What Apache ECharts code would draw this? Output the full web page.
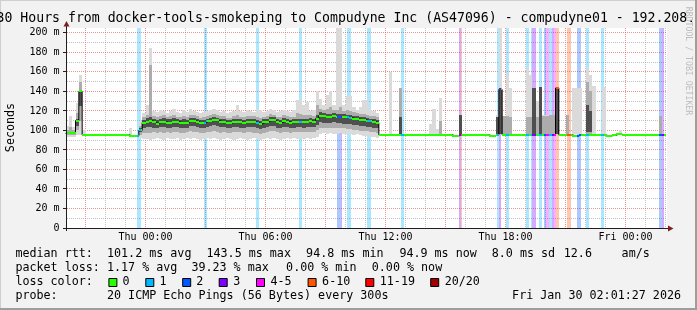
<!DOCTYPE html>
<html>
<head>
<meta charset="utf-8">
<script src="https://cdn.jsdelivr.net/npm/echarts@6/dist/echarts.min.js"></script>
<style>
html,body{margin:0;padding:0;background:#f2f2f2;overflow:hidden;}
#chart{width:697px;height:310px;}
</style>
</head>
<body>
<div id="chart"></div>
<script>
// ================= DATA =================
// time in minutes relative to Thu 00:00
const timeStart = -240;
const timeEnd = 1560;
const medianStep = 10;

// median RTT (ms), one value per 10 minutes from Wed 20:00
const median = [
 97, 97, 97, 110, 140, 95.5, 95.5, 95.5, 95.5, 95.5,
 95.5, 95.5, 95.5, 95.5, 95.5, 95.5, 95.5, 95.5, 95.5, 94.5,
 94.5, 94.5, 100, 108, 109, 110, 108.5, 107, 109, 109,
 108, 108, 109, 109, 108, 108, 108, 110, 110, 109,
 107.5, 108, 109.5, 110, 111, 110.5, 109, 109, 107.5, 107.5,
 109, 109, 108.5, 108, 109, 109, 109, 108, 106.5, 108.5,
 109, 110.5, 110.5, 108.5, 108, 109.5, 109, 108, 108.5, 109,
 109, 108.5, 109, 109.5, 109, 112, 115, 114.5, 114, 114,
 114.5, 114, 114, 113.5, 113.5, 113, 112, 112, 111, 111,
 110, 109.5, 109, 108, 95.5, 95.5, 95.5, 95.5, 95.5, 95.5,
 95.5, 95.5, 95.5, 95.5, 95.5, 95.5, 95.5, 95.5, 95.5, 95.5,
 95.5, 95.5, 95.5, 95.5, 95.5, 95.5, 94.5, 94.5, 95.5, 95.5,
 95.5, 95.5, 95.5, 95.5, 95.5, 95.5, 95.5, 94.5, 94.5, 95.5,
 142, 95.5, 95.5, 95.5, 95.5, 95.5, 95.5, 95.5, 95.5, 95.5,
 95.5, 95.5, 95.5, 95.5, 95.5, 95.5, 95.5, 143.5, 95.5, 95.5,
 95.5, 95.5, 94.5, 94.5, 95.5, 95.5, 95.5, 95.5, 95.5, 95.5,
 95.5, 95.5, 94.5, 94.5, 95, 96, 96, 95.5, 95.5, 95.5,
 95.5, 95.5, 95.5, 95.5, 95.5, 95.5, 95.5, 95.5, 95.5, 95.5
];

// smoke (ping spread), 10-minute samples where visible
const smokeTime = [
 -240, -230, -220, -210, -200, -190, -50,
 -20, -10, 0, 10, 20, 30, 40, 50, 60, 70,
 80, 90, 100, 110, 120, 130, 140, 150, 160, 170,
 180, 190, 200, 210, 220, 230, 240, 250, 260, 270,
 280, 290, 300, 310, 320, 330, 340, 350, 360, 370,
 380, 390, 400, 410, 420, 430, 440, 450, 460, 470,
 480, 490, 500, 510, 520, 530, 540, 550, 560, 570,
 580, 590, 600, 610, 620, 630, 640, 650, 660, 670,
 680, 690,
 730, 760, 850, 860, 870, 880, 940, 1050, 1060, 1070,
 1080, 1090, 1140, 1150, 1160, 1170, 1180, 1190, 1200, 1210,
 1220, 1230, 1260, 1280, 1290, 1300, 1320, 1330, 1340, 1370,
 1420, 1540
];
const smokeOuterLo = [
 93, 93, 93, 95, 95, 94, 94,
 92, 91, 91, 90, 91, 92, 91, 90, 92, 91,
 91, 92, 90, 91, 92, 91, 92, 91, 90, 91,
 92, 91, 92, 91, 90, 91, 92, 91, 90, 91,
 92, 91, 90, 91, 92, 91, 90, 91, 92, 91,
 92, 91, 90, 91, 92, 91, 92, 91, 92, 91,
 92, 91, 92, 93, 96, 97, 96, 97, 96, 96,
 97, 96, 96, 96, 95, 96, 95, 94, 94, 93,
 93, 92,
 96, 96, 96, 96, 96, 96, 96, 96, 96, 96,
 96, 96, 96, 96, 96, 96, 96, 96, 96, 96,
 96, 96, 96, 96, 96, 96, 96, 96, 96, 96,
 96, 96
];
const smokeOuterHi = [
 105, 115, 104, 128, 157, 100, 102,
 110, 118, 126, 184, 120, 119, 121, 120, 118, 120,
 122, 119, 118, 121, 119, 122, 120, 119, 118, 119,
 120, 121, 122, 121, 119, 120, 118, 119, 120, 126,
 120, 119, 121, 120, 119, 122, 121, 119, 120, 122,
 121, 119, 120, 121, 120, 119, 121, 131, 131, 126,
 129, 120, 121, 140, 132, 126, 136, 140, 126, 205,
 205, 126, 135, 135, 124, 121, 124, 131, 131, 121,
 120, 118,
 160, 143, 107, 122, 101, 133, 116, 116, 205, 115,
 157, 143, 164, 157, 143, 130, 145, 116, 116, 116,
 116, 145, 116, 144, 144, 144, 164, 157, 146, 145,
 100, 115
];
const smokeMidLo = [
 95, 95, 95, 100, 110, null, null,
 95, 97, 97, 97, 98, 97, 98, 97, 98, 97,
 98, 98, 97, 97, 98, 99, 98, 98, 97, 97,
 98, 98, 99, 98, 97, 98, 97, 97, 98, 98,
 98, 97, 98, 98, 97, 97, 96, 97, 98, 99,
 99, 98, 97, 98, 98, 97, 98, 98, 98, 98,
 98, 98, 98, 100, 102, 103, 102, 102, 103, 102,
 102, 102, 101, 101, 100, 100, 99, 99, 99, 98,
 98, 97,
 null, 96, null, null, null, 96, null, null, 96, 96,
 96, 96, 96, 96, null, 96, null, 96, 96, 96,
 96, null, 96, null, null, null, 96, 96, null, null,
 null, 96
];
const smokeMidHi = [
 100, 104, 100, 118, 150, null, null,
 105, 114, 116, 167, 115, 114, 115, 116, 114, 115,
 116, 114, 114, 115, 114, 116, 116, 115, 113, 114,
 115, 116, 117, 116, 115, 115, 113, 113, 115, 116,
 114, 114, 115, 115, 115, 114, 113, 114, 115, 117,
 116, 114, 114, 116, 115, 114, 114, 118, 117, 116,
 116, 116, 115, 126, 122, 121, 122, 124, 121, 121,
 124, 120, 121, 120, 119, 118, 117, 117, 116, 115,
 115, 114,
 null, 143, null, null, null, 110, null, null, 143, 115,
 115, 114, 114, 114, null, 114, null, 115, 115, 116,
 116, null, 116, null, null, null, 150, 140, null, null,
 null, 115
];
const smokeCoreLo = [
 null, null, null, 105, 125, null, null,
 98, 103, 104, 104, 103, 102, 104, 104, 103, 103,
 104, 104, 103, 103, 103, 105, 105, 104, 102, 103,
 104, 105, 106, 105, 104, 104, 102, 102, 104, 104,
 103, 103, 104, 104, 104, 103, 101, 103, 104, 105,
 105, 103, 103, 104, 104, 103, 103, 104, 104, 103,
 104, 104, 104, 106, 109, 108, 108, 108, 109, 108,
 108, 107, 107, 107, 106, 106, 105, 105, 104, 104,
 103, 102,
 null, 96, null, null, null, null, 96, 96, 96, null,
 null, null, null, null, 96, null, 96, null, null, null,
 null, 96, null, null, null, null, 98, 98, null, null,
 null, null
];
const smokeCoreHi = [
 null, null, null, 112, 140, null, null,
 103, 111, 113, 114, 112, 111, 112, 113, 112, 112,
 113, 112, 111, 112, 111, 113, 113, 112, 111, 111,
 112, 113, 114, 113, 112, 112, 111, 111, 112, 112,
 112, 111, 112, 112, 112, 111, 110, 112, 112, 114,
 114, 112, 111, 113, 112, 111, 112, 112, 112, 112,
 112, 113, 112, 116, 119, 118, 117, 117, 118, 117,
 117, 117, 116, 116, 115, 115, 114, 114, 113, 112,
 112, 111,
 null, 114, null, null, null, null, 116, 114, 142, null,
 null, null, null, null, 143, null, 145, null, null, null,
 null, 143.5, null, null, null, null, 126, 120, null, null,
 null, null
];

// packet loss events (5-minute samples): time and loss class index
const lossTime = [
 -25, -20, 175, 180, 330, 335, 460, 465, 575, 580, 585,
 605, 610, 665, 670, 765, 770, 940, 945, 1055, 1060,
 1080, 1085, 1140, 1145, 1155, 1160, 1165, 1180, 1185,
 1195, 1200, 1205, 1210, 1215, 1220, 1225, 1230, 1235,
 1265, 1270, 1295, 1300, 1320, 1325, 1365, 1370, 1540, 1545, 1550
];
const lossLevel = [
 1, 1, 1, 1, 1, 1, 1, 1, 2, 2, 3,
 1, 1, 1, 1, 1, 1, 3, 5, 1, 3,
 1, 1, 1, 1, 1, 3, 3, 1, 1,
 2, 4, 4, 1, 1, 3, 4, 5, 5,
 5, 5, 2, 2, 1, 1, 1, 1, 2, 2, 3
];

const lossColors = ['#26ff00', '#00b8ff', '#0059ff', '#7e00ff', '#ff00ff', '#ff5500', '#ff0000', '#a10000'];
const lossNames = ['0', '1', '2', '3', '4-5', '6-10', '11-19', '20/20'];

const xLabelTimes = [0, 360, 720, 1080, 1440];
const xLabelTexts = ['Thu 00:00', 'Thu 06:00', 'Thu 12:00', 'Thu 18:00', 'Fri 00:00'];
const yLabelValues = [0, 20, 40, 60, 80, 100, 120, 140, 160, 180, 200];

const titleText = '30 Hours from docker-tools-smokeping to Compudyne Inc (AS47096) - compudyne01 - 192.208.';
const yAxisTitle = 'Seconds';
const watermarkText = 'RRDTOOL / TOBI OETIKER';
const statsRtt = ['median rtt:', '101.2 ms avg', '143.5 ms max', '94.8 ms min', '94.9 ms now', '8.0 ms sd', '12.6', 'am/s'];
const statsLoss = ['packet loss:', '1.17 % avg', '39.23 % max', '0.00 % min', '0.00 % now'];
const lossColorLabel = 'loss color:';
const probeTexts = ['probe:', '20 ICMP Echo Pings (56 Bytes) every 300s', 'Fri Jan 30 02:01:27 2026'];

// ================= LAYOUT / STYLE =================
const Y_MAX = 205;
const MONO = '"DejaVu Sans Mono", monospace';
const MAJOR = 'rgba(222,79,79,0.6)';
const MINOR = 'rgba(143,143,143,0.55)';
const SMOKE = ['#dadada', '#acacac', '#4f4f4f'];
const statsRttX = [16, 107.6, 207.1, 306.7, 400, 492.4, 564.4, 622.2];
const statsLossX = [16, 107.6, 192, 286.7, 372.4];
const swatchX = [108.4, 145.3, 182.2, 218.7, 256, 307.6, 365.3, 430.2];
const swatchLabelX = [123, 160, 196.9, 233.8, 271, 322.7, 380.4, 445.3];
const rowY = [254.3, 268.3, 282.3, 296.3];

function alpha(hex, a) {
  const n = parseInt(hex.slice(1), 16);
  return 'rgba(' + ((n >> 16) & 255) + ',' + ((n >> 8) & 255) + ',' + (n & 255) + ',' + a + ')';
}
function box(api, t0, t1, v0, v1) {
  const a = api.coord([t0, v1]), b = api.coord([t1, v0]);
  const x0 = Math.round(a[0]), x1 = Math.round(b[0]);
  const y0 = Math.round(a[1]), y1 = Math.round(b[1]);
  return { x: x0, y: y0, width: Math.max(1, x1 - x0), height: Math.max(1, y1 - y0) };
}

const gridX = [];
for (let t = timeStart + 60; t <= timeEnd; t += 60) gridX.push(t);
const gridY = [];
for (let v = 10; v <= 200; v += 10) gridY.push(v);

const medianData = median.map((v, k) => [timeStart + k * medianStep, v]);
const stepData = medianData.concat([[timeEnd, median[median.length - 1]]]);

const chart = echarts.init(document.getElementById('chart'), null, { renderer: 'canvas', width: 697, height: 310 });

const series = [
  { // vertical grid
    type: 'custom', z: 1, silent: true, clip: false,
    data: gridX.map(t => [t, 0]),
    renderItem: (p, api) => {
      const t = gridX[p.dataIndex];
      const x = Math.floor(api.coord([t, 0])[0]) + 0.5;
      return { type: 'line', shape: { x1: x, y1: 28, x2: x, y2: 228 },
        style: { stroke: (t % 180 === 0) ? MAJOR : MINOR, lineWidth: 1, lineDash: [1, 1] } };
    }
  },
  { // horizontal grid
    type: 'custom', z: 1, silent: true, clip: false,
    data: gridY.map(v => [timeStart, v]),
    renderItem: (p, api) => {
      const v = gridY[p.dataIndex];
      const y = Math.floor(api.coord([timeStart, v])[1]) + 0.5;
      const major = v % 20 === 0;
      const ch = [{ type: 'line', shape: { x1: 67, y1: y, x2: 667, y2: y },
        style: { stroke: major ? MAJOR : MINOR, lineWidth: 1, lineDash: [1, 1] } }];
      if (major) ch.push({ type: 'line', shape: { x1: 63, y1: y, x2: 66, y2: y }, style: { stroke: '#1f1f1f', lineWidth: 1 } });
      return { type: 'group', children: ch };
    }
  },
  { // loss background bands
    type: 'custom', z: 2, silent: true, clip: true,
    data: lossTime.map((t, i) => [t, lossLevel[i]]),
    renderItem: (p, api) => {
      const i = p.dataIndex, t = lossTime[i];
      return { type: 'rect', shape: box(api, t, t + 5, 0, Y_MAX), style: { fill: alpha(lossColors[lossLevel[i]], 0.33) } };
    }
  },
  { // smoke
    type: 'custom', z: 3, silent: true, clip: true,
    data: smokeTime.map((t, i) => [t, smokeOuterHi[i]]),
    renderItem: (p, api) => {
      const i = p.dataIndex, t = smokeTime[i];
      const layers = [[smokeOuterLo, smokeOuterHi], [smokeMidLo, smokeMidHi], [smokeCoreLo, smokeCoreHi]];
      const ch = [];
      layers.forEach((L, j) => {
        const lo = L[0][i], hi = L[1][i];
        if (lo == null || hi == null) return;
        ch.push({ type: 'rect', shape: box(api, t, t + medianStep, lo, hi), style: { fill: SMOKE[j] } });
      });
      return { type: 'group', children: ch };
    }
  },
  { // median connector (black)
    type: 'line', z: 4, silent: true, step: 'end', symbol: 'none',
    data: stepData, lineStyle: { color: '#000', width: 1 }, animation: false
  },
  { // median segments (green)
    type: 'custom', z: 5, silent: true, clip: true,
    data: medianData,
    renderItem: (p, api) => {
      const i = p.dataIndex, t = timeStart + i * medianStep, v = median[i];
      const a = api.coord([t, v]), b = api.coord([t + medianStep, v]);
      const x0 = Math.round(a[0]), x1 = Math.round(b[0]);
      return { type: 'rect', shape: { x: x0, y: Math.round(a[1]) - 1, width: x1 - x0, height: 2 }, style: { fill: lossColors[0] } };
    }
  },
  { // loss-colored median marks
    type: 'custom', z: 6, silent: true, clip: true,
    data: lossTime.map((t, i) => [t, lossLevel[i]]),
    renderItem: (p, api) => {
      const i = p.dataIndex, t = lossTime[i];
      const k = Math.floor((t - timeStart) / medianStep);
      const v = median[k];
      const a = api.coord([t, v]), b = api.coord([t + 5, v]);
      const x0 = Math.round(a[0]), x1 = Math.round(b[0]);
      return { type: 'rect', shape: { x: x0, y: Math.round(a[1]) - 1, width: Math.max(1, x1 - x0), height: 2 }, style: { fill: lossColors[lossLevel[i]] } };
    }
  }
];

const graphics = [
  { type: 'rect', z: -100, shape: { x: 66, y: 28, width: 601, height: 200 }, style: { fill: '#ffffff' } },
  // frame shading
  { type: 'rect', z: 50, shape: { x: 0, y: 0, width: 697, height: 1 }, style: { fill: '#cfcfcf' } },
  { type: 'rect', z: 50, shape: { x: 0, y: 0, width: 1, height: 310 }, style: { fill: '#cfcfcf' } },
  { type: 'rect', z: 50, shape: { x: 0, y: 308, width: 697, height: 2 }, style: { fill: '#9e9e9e' } },
  { type: 'rect', z: 50, shape: { x: 695, y: 0, width: 2, height: 310 }, style: { fill: '#9e9e9e' } },
  // axes
  { type: 'line', z: 60, shape: { x1: 66.5, y1: 26, x2: 66.5, y2: 231 }, style: { stroke: '#1f1f1f', lineWidth: 1 } },
  { type: 'line', z: 60, shape: { x1: 63, y1: 228.5, x2: 669, y2: 228.5 }, style: { stroke: '#1f1f1f', lineWidth: 1 } },
  { type: 'polygon', z: 61, shape: { points: [[63.5, 26.5], [69.5, 26.5], [66.5, 21]] }, style: { fill: '#801f1f' } },
  { type: 'polygon', z: 61, shape: { points: [[668, 225.5], [668, 231.5], [673.5, 228.5]] }, style: { fill: '#801f1f' } },
  // title
  { type: 'text', z: 70, x: -3.5, y: 19, style: { text: titleText, font: '13.2px ' + MONO, fill: '#000', align: 'left', verticalAlign: 'middle' } },
  // y axis title
  { type: 'text', z: 70, x: 10.5, y: 127.5, rotation: Math.PI / 2, style: { text: yAxisTitle, font: '11.7px ' + MONO, fill: '#000', align: 'center', verticalAlign: 'middle' } },
  // watermark
  { type: 'text', z: 70, x: 688, y: 61, rotation: -Math.PI / 2, style: { text: watermarkText, font: '8.2px ' + MONO, fill: '#bdbdbd', align: 'center', verticalAlign: 'middle' } }
];
statsRtt.forEach((s, i) => graphics.push({ type: 'text', z: 70, x: statsRttX[i] - 0.6, y: rowY[0], style: { text: s, font: '11.7px ' + MONO, fill: '#000', align: 'left', verticalAlign: 'middle' } }));
statsLoss.forEach((s, i) => graphics.push({ type: 'text', z: 70, x: statsLossX[i] - 0.6, y: rowY[1], style: { text: s, font: '11.7px ' + MONO, fill: '#000', align: 'left', verticalAlign: 'middle' } }));
graphics.push({ type: 'text', z: 70, x: 15.4, y: rowY[2], style: { text: lossColorLabel, font: '11.7px ' + MONO, fill: '#000', align: 'left', verticalAlign: 'middle' } });
lossNames.forEach((s, i) => {
  graphics.push({ type: 'rect', z: 70, shape: { x: swatchX[i] + 0.5, y: 278.5, width: 8, height: 8 }, style: { fill: lossColors[i], stroke: '#000', lineWidth: 1 } });
  graphics.push({ type: 'text', z: 70, x: swatchLabelX[i] - 0.6, y: rowY[2], style: { text: s, font: '11.7px ' + MONO, fill: '#000', align: 'left', verticalAlign: 'middle' } });
});
graphics.push({ type: 'text', z: 70, x: 15.4, y: rowY[3], style: { text: probeTexts[0], font: '11.7px ' + MONO, fill: '#000', align: 'left', verticalAlign: 'middle' } });
graphics.push({ type: 'text', z: 70, x: 107, y: rowY[3], style: { text: probeTexts[1], font: '11.7px ' + MONO, fill: '#000', align: 'left', verticalAlign: 'middle' } });
graphics.push({ type: 'text', z: 70, x: 681, y: rowY[3], style: { text: probeTexts[2], font: '11.7px ' + MONO, fill: '#000', align: 'right', verticalAlign: 'middle' } });

chart.setOption({
  animation: false,
  backgroundColor: '#f2f2f2',
  grid: { left: 65.5, top: 28, width: 600, height: 200, show: false },
  xAxis: {
    type: 'value', min: timeStart, max: timeEnd, interval: 60,
    axisLine: { show: false }, axisTick: { show: false }, splitLine: { show: false },
    axisLabel: {
      margin: 4, fontFamily: MONO, fontSize: 10, color: '#000', lineHeight: 10,
      formatter: v => { const j = xLabelTimes.indexOf(v); return j >= 0 ? xLabelTexts[j] : ''; }
    }
  },
  yAxis: {
    type: 'value', min: 0, max: Y_MAX, interval: 20,
    axisLine: { show: false }, axisTick: { show: false }, splitLine: { show: false },
    axisLabel: {
      margin: 6, fontFamily: MONO, fontSize: 10, color: '#000',
      formatter: v => yLabelValues.indexOf(v) < 0 ? '' : (v === 0 ? '0' : v + ' m')
    }
  },
  series: series,
  graphic: { elements: graphics }
});
</script>
</body>
</html>
